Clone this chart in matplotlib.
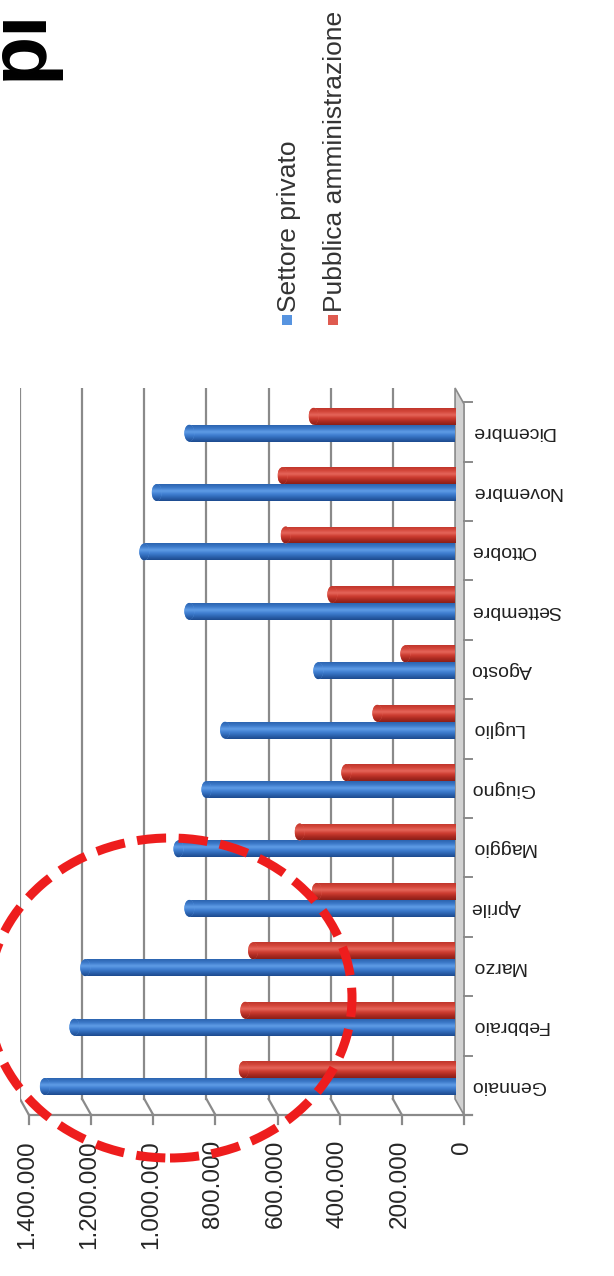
import numpy as np
import matplotlib
matplotlib.use("Agg")
import matplotlib.pyplot as plt
from matplotlib.patches import Ellipse, Polygon, Rectangle
from matplotlib.colors import LinearSegmentedColormap

# ---- data -------------------------------------------------------------
mesi = ["Gennaio", "Febbraio", "Marzo", "Aprile", "Maggio", "Giugno",
        "Luglio", "Agosto", "Settembre", "Ottobre", "Novembre", "Dicembre"]
settore_privato = [1320000, 1225000, 1190000, 855000, 890000, 800000,
                   740000, 440000, 855000, 1000000, 960000, 855000]
pubblica_amm = [680000, 675000, 650000, 445000, 500000, 350000,
                250000, 160000, 395000, 545000, 555000, 455000]
valori_asse = [0, 200000, 400000, 600000, 800000, 1000000, 1200000, 1400000]
serie = ["Settore privato", "Pubblica amministrazione"]
titolo = "pi"


def it_fmt(v):
    return f"{v:,}".replace(",", ".")


plt.rcParams["font.family"] = ["Liberation Sans", "DejaVu Sans"]
plt.rcParams["lines.scale_dashes"] = False

W, H = 614, 1276
fig = plt.figure(figsize=(W / 100, H / 100), dpi=100)
fig.patch.set_facecolor("white")

# plot area (px): x 20..465, y 388..1115
ax = fig.add_axes([20 / W, 1 - 1115 / H, 445 / W, 727 / H])
XMAX, XMIN = 1400000, -32000
YMIN, YMAX = -0.5, 11.74
ax.set_xlim(XMAX, XMIN)
ax.set_ylim(YMIN, YMAX)
ax.axis("off")

px_x = (XMAX - XMIN) / 445.0      # data units per pixel, horizontal
px_y = (YMAX - YMIN) / 727.0      # data units per pixel, vertical
dx = 9 * px_x                     # depth shift of the 3D floor
dy = 16 * px_y

grid_c = "#8a8a8a"

# back-wall gridlines and floor slants
for v in valori_asse[1:]:
    ax.plot([v, v], [YMIN + dy, YMAX], color=grid_c, lw=1.6, zorder=1)
    ax.plot([v, v - dx], [YMIN + dy, YMIN], color=grid_c, lw=1.6, zorder=1)

# side wall at value zero
wall = Polygon([(0, YMIN + dy), (0, YMAX), (-dx, YMAX - dy), (-dx, YMIN)],
               closed=True, facecolor="#d2d2d2", edgecolor=grid_c, lw=1.2,
               zorder=1.5, clip_on=False)
ax.add_patch(wall)

# front floor edge, value ticks and category ticks
ax.plot([XMAX - dx, -dx - 8 * px_x], [YMIN, YMIN], color=grid_c, lw=1.6,
        zorder=2, clip_on=False)
for v in valori_asse:
    ax.plot([v - dx, v - dx], [YMIN, YMIN - 9 * px_y], color=grid_c, lw=1.6,
            zorder=2, clip_on=False)
for b in np.arange(-0.5, 12.0, 1.0):
    ax.plot([-dx, -dx - 8 * px_x], [b, b], color=grid_c, lw=1.4,
            zorder=2, clip_on=False)

# cylinder shading
blue_cm = LinearSegmentedColormap.from_list(
    "blu", ["#1d4a8e", "#2c63b0", "#3f7ed0", "#5f9ce6", "#3c79c8", "#2c64b0"])
red_cm = LinearSegmentedColormap.from_list(
    "rosso", ["#8a1f18", "#ab2a21", "#cd3d31", "#e5655a", "#d3463a", "#c0362c"])
grad = np.linspace(0, 1, 64).reshape(-1, 1)

bar_h = 0.285
cap_w = 10 * px_x
y = np.arange(len(mesi))


def cylinders(values, offset, cmap):
    bars = ax.barh(y + offset, values, height=bar_h, color=cmap(0.6),
                   edgecolor="none", zorder=3)
    for rect, v in zip(bars, values):
        y0 = rect.get_y()
        im = ax.imshow(grad, cmap=cmap, aspect="auto", origin="lower",
                       extent=(v, 0 - 3 * px_x, y0, y0 + bar_h),
                       zorder=3.1, interpolation="bilinear")
        im.set_clip_path(rect)
        rect.set_clip_on(False)
        cap = Ellipse((v, y0 + bar_h / 2), cap_w, bar_h, facecolor=cmap(0.6),
                      edgecolor="none", zorder=3.2)
        ax.add_patch(cap)
        im2 = ax.imshow(grad, cmap=cmap, aspect="auto", origin="lower",
                        extent=(v + cap_w / 2, v - cap_w / 2, y0, y0 + bar_h),
                        zorder=3.3, interpolation="bilinear")
        im2.set_clip_path(cap)


cylinders(settore_privato, -0.02, blue_cm)
cylinders(pubblica_amm, 0.265, red_cm)
ax.set_xlim(XMAX, XMIN)
ax.set_ylim(YMIN, YMAX)

# value-axis labels
for v in valori_asse:
    ax.text(v - dx + 2 * px_x, YMIN - 25 * px_y, it_fmt(v), rotation=90,
            ha="center", va="top", fontsize=17.5, color="#262626",
            clip_on=False)

# category labels
for i, m in enumerate(mesi):
    ax.text(-dx - 7 * px_x, i, m, rotation=180, ha="left", va="center",
            fontsize=14, color="#202020", clip_on=False)

# legend
leg_cols = [blue_cm(0.55), red_cm(0.55)]
leg_x = [287, 333]
for lx, col, name in zip(leg_x, leg_cols, serie):
    fig.patches.append(Rectangle(((lx - 5) / W, 1 - 325 / H), 10 / W, 10 / H,
                                 transform=fig.transFigure, facecolor=col,
                                 edgecolor="none"))
    fig.text((lx + 9) / W, 1 - 312 / H, name, rotation=90,
             rotation_mode="anchor", ha="left", va="baseline",
             fontsize=19, color="#333333")

# slide title fragment
fig.text(42 / W, 1 - 80 / H, titolo, rotation=90, rotation_mode="anchor",
         ha="left", va="baseline", fontsize=58, fontweight="bold",
         color="black")

# highlight ring
ring = Ellipse((170 / 100, (H - 998) / 100), 364 / 100, 320 / 100,
               transform=fig.dpi_scale_trans, facecolor="none",
               edgecolor="#ee1d1d", lw=6.5, linestyle=(0, (21, 9)),
               capstyle="butt", zorder=10)
fig.patches.append(ring)

fig.savefig("out.png", dpi=100)
